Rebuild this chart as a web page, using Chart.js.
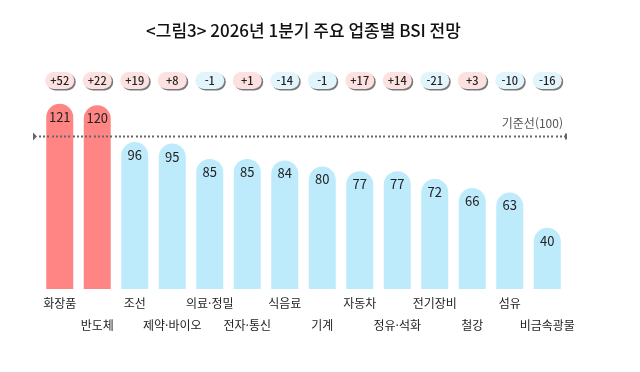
<!DOCTYPE html>
<html lang="ko">
<head>
<meta charset="UTF-8">
<title>업종별 BSI 전망</title>
<script src="https://cdn.jsdelivr.net/npm/chart.js"></script>
<style>
  html, body { margin: 0; padding: 0; background: #fff; }
  #wrap { width: 640px; height: 372px; }
</style>
</head>
<body>
<div id="wrap"><canvas id="bsi" width="640" height="372"></canvas></div>
<script>
// 업종별 BSI 전망 (2026년 1분기)
const industries = ['화장품', '반도체', '조선', '제약·바이오', '의료·정밀', '전자·통신', '식음료',
  '기계', '자동차', '정유·석화', '전기장비', '철강', '섬유', '비금속광물'];
const bsiValues = [121, 120, 96, 95, 85, 85, 84, 80, 77, 77, 72, 66, 63, 40];
// 전분기 대비 증감
const changes = [52, 22, 19, 8, -1, 1, -14, -1, 17, 14, -21, 3, -10, -16];
const baseline = 100;
const baselineLabel = '기준선(100)';

const FONT = '"Noto Sans CJK KR", "Noto Sans", sans-serif';
const RED = '#ff8585', BLUE = '#bdebfc';

function roundRect(ctx, x, y, w, h, r) {
  ctx.beginPath();
  ctx.moveTo(x + r, y);
  ctx.lineTo(x + w - r, y);
  ctx.arc(x + w - r, y + r, r, -Math.PI / 2, Math.PI / 2);
  ctx.lineTo(x + r, y + h);
  ctx.arc(x + r, y + r, r, Math.PI / 2, Math.PI * 1.5);
  ctx.closePath();
}

const extras = {
  id: 'extras',
  afterDatasetsDraw(chart) {
    const ctx = chart.ctx;
    const meta = chart.getDatasetMeta(0);
    const yScale = chart.scales.y;
    const area = chart.chartArea;
    ctx.save();

    // bar values
    ctx.font = '13px ' + FONT;
    ctx.fillStyle = '#222';
    ctx.textAlign = 'center';
    ctx.textBaseline = 'middle';
    meta.data.forEach((bar, i) => {
      ctx.fillText(String(bsiValues[i]), bar.x, bar.y + 13);
    });

    // baseline
    const yb = Math.round(yScale.getPixelForValue(baseline)) + 0.5;
    const x0 = 33, x1 = area.right;
    ctx.fillStyle = '#666';
    for (let x = x0 + 6; x < x1 - 2; x += 4.2) {
      ctx.fillRect(Math.round(x), yb - 1, 2, 2);
    }
    ctx.beginPath();
    ctx.moveTo(x0, yb - 4);
    ctx.lineTo(x0 + 4, yb);
    ctx.lineTo(x0, yb + 4);
    ctx.closePath();
    ctx.fill();
    ctx.fillRect(x1 - 1, yb - 3, 2, 6);
    ctx.font = '12px ' + FONT;
    ctx.fillStyle = '#555';
    ctx.textAlign = 'right';
    ctx.fillText(baselineLabel, x1 - 3, yb - 13);

    // change pills
    ctx.font = '500 11px ' + FONT;
    ctx.textAlign = 'center';
    meta.data.forEach((bar, i) => {
      const c = changes[i];
      const w = 29, h = 17, py = 72;
      const px = bar.x - w / 2;
      ctx.fillStyle = '#7a7a7a';
      roundRect(ctx, px + 1.5, py + 1.5, w, h, h / 2);
      ctx.fill();
      ctx.fillStyle = c > 0 ? '#fde0e0' : '#e2f4fc';
      roundRect(ctx, px, py, w, h, h / 2);
      ctx.fill();
      ctx.fillStyle = '#222';
      ctx.fillText((c > 0 ? '+' : '') + c, bar.x, py + h / 2 + 0.5);
    });
    ctx.restore();
  }
};

new Chart(document.getElementById('bsi'), {
  type: 'bar',
  data: {
    labels: industries,
    datasets: [{
      data: bsiValues,
      backgroundColor: bsiValues.map(v => v > baseline ? RED : BLUE),
      borderRadius: { topLeft: 14, topRight: 14, bottomLeft: 0, bottomRight: 0 },
      borderSkipped: 'bottom',
      barPercentage: 0.9,
      categoryPercentage: 0.8
    }]
  },
  options: {
    responsive: false,
    animation: false,
    layout: { padding: { left: 41, right: 74, top: 0, bottom: 0 } },
    plugins: {
      legend: { display: false },
      tooltip: { enabled: false },
      title: {
        display: true,
        text: '<그림3> 2026년 1분기 주요 업종별 BSI 전망',
        color: '#111',
        font: { family: FONT, size: 17, weight: '500', lineHeight: 1.2 },
        padding: { top: 20, bottom: 49.6 }
      }
    },
    scales: {
      y: { display: false, min: 0, max: 130 },
      x: {
        grid: { display: false, drawTicks: false },
        border: { display: false },
        afterFit(scale) { scale.height = 83; },
        ticks: {
          autoSkip: false,
          maxRotation: 0,
          padding: 3,
          color: '#222',
          font: { family: FONT, size: 12, lineHeight: '22px' },
          callback(value, i) {
            return i % 2 === 0 ? industries[i] : ['', industries[i]];
          }
        }
      }
    }
  },
  plugins: [extras]
});
</script>
</body>
</html>
